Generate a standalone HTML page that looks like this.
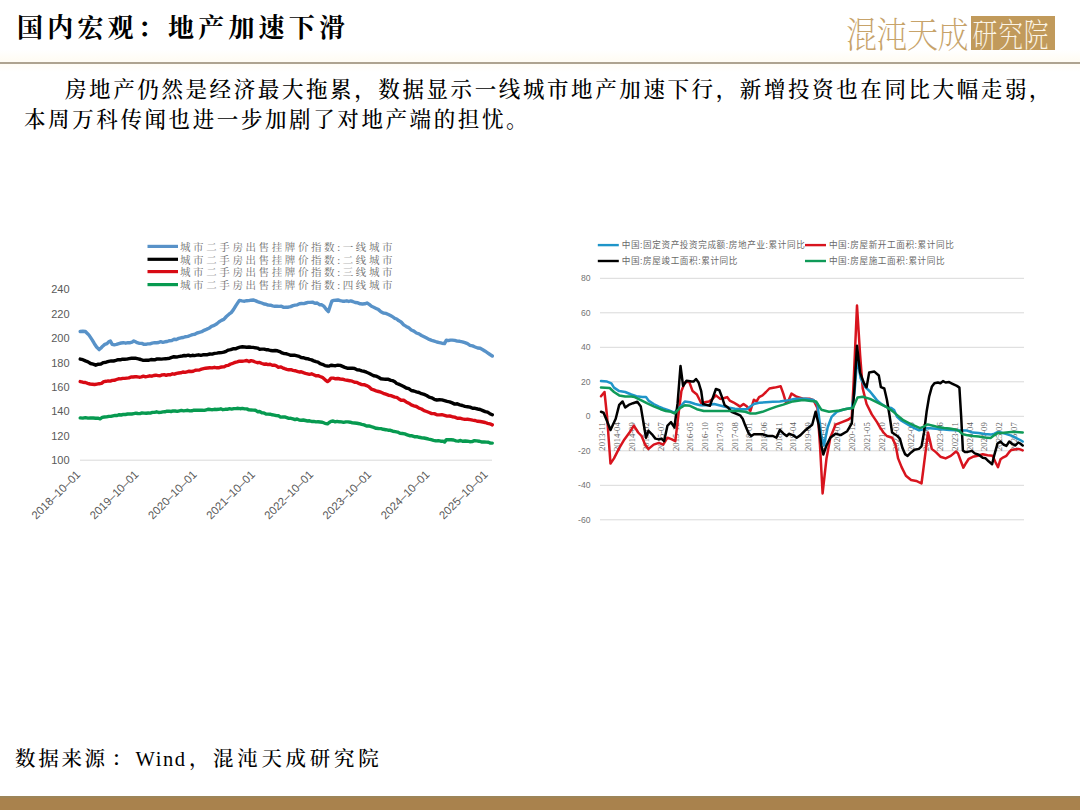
<!DOCTYPE html>
<html lang="zh-CN"><head><meta charset="utf-8"><title>国内宏观：地产加速下滑</title>
<style>
html,body{margin:0;padding:0;background:#fff;}
body{width:1080px;height:810px;position:relative;overflow:hidden;font-family:"Liberation Serif","Noto Serif CJK SC",serif;color:#000;}
.title{position:absolute;left:17px;top:7px;font-size:26px;font-weight:700;letter-spacing:4.2px;white-space:nowrap;font-family:"Liberation Serif","Noto Serif CJK SC",serif;}
.band{position:absolute;left:0;top:50px;width:1080px;height:22px;background:linear-gradient(#fff 0,#fffcf4 45%,#fffcf4 60%,#fff 100%);}
.hline{position:absolute;left:0;top:62px;width:1080px;height:2px;background:#aea390;}
.para{position:absolute;left:24px;top:75px;width:1050px;font-size:21.5px;line-height:30px;letter-spacing:2.6px;font-weight:500;}
.para p{margin:0;white-space:nowrap;}
.src{position:absolute;left:15px;top:744px;font-size:20.5px;font-weight:500;white-space:nowrap;letter-spacing:2.7px;}
.src span{position:absolute;top:0;line-height:30px;}
.bar{position:absolute;left:0;top:796px;width:1080px;height:12px;background:#a9824d;border-top:2px solid #9d8558;}
.logo{position:absolute;left:846px;top:12px;height:42px;white-space:nowrap;}
.logo .a{position:absolute;left:0;top:0;font-size:30px;font-weight:200;color:#c7a36a;letter-spacing:-0.5px;font-family:"Noto Serif CJK SC",serif;line-height:42px;transform:scale(1.035,1.2);transform-origin:1px 22.5px;}
.logo .b{position:absolute;left:125px;top:4px;width:84px;height:34px;background:#c19a5b;color:#fbf4e6;font-size:25px;font-weight:200;line-height:34px;text-align:center;letter-spacing:1px;font-family:"Noto Serif CJK SC",serif;}
.logo .c{display:inline-block;position:relative;top:-1.5px;left:-2px;transform:scale(0.99,1.33);transform-origin:50% 50%;}
svg{position:absolute;left:0;top:0;}
.ly{font-family:"Liberation Sans",sans-serif;font-size:11px;fill:#595959;text-anchor:end;}
.lx{font-family:"Liberation Sans",sans-serif;font-size:11.4px;fill:#595959;text-anchor:end;}
.lleg{font-family:"Liberation Serif","Noto Serif CJK SC",serif;font-size:10.5px;fill:#6b6b6b;letter-spacing:2.6px;}
.ry{font-family:"Liberation Sans",sans-serif;font-size:8.6px;fill:#737373;text-anchor:end;}
.rx{font-family:"Liberation Serif",serif;font-size:8.6px;fill:#606060;text-anchor:end;}
.rleg{font-family:"Liberation Sans","Noto Sans CJK SC",sans-serif;font-size:8.6px;letter-spacing:0.6px;fill:#6a6a6a;}
</style></head>
<body>
<div class="band"></div>
<div class="title">国内宏观：地产加速下滑</div>
<div class="logo"><span class="a">混沌天成</span><span class="b"><span class="c">研究院</span></span></div>
<div class="hline"></div>
<div class="para"><p style="text-indent:41px">房地产仍然是经济最大拖累，数据显示一线城市地产加速下行，新增投资也在同比大幅走弱，</p><p>本周万科传闻也进一步加剧了对地产端的担忧。</p></div>
<svg width="1080" height="810" viewBox="0 0 1080 810">
<g id="left">
<text x="69.5" y="293.3" class="ly">240</text>
<text x="69.5" y="317.7" class="ly">220</text>
<text x="69.5" y="342.1" class="ly">200</text>
<text x="69.5" y="366.6" class="ly">180</text>
<text x="69.5" y="391.0" class="ly">160</text>
<text x="69.5" y="415.4" class="ly">140</text>
<text x="69.5" y="439.8" class="ly">120</text>
<text x="69.5" y="464.2" class="ly">100</text>
<line x1="80" y1="460.2" x2="492" y2="460.2" stroke="#d9d9d9" stroke-width="1"/>
<text transform="translate(81.1,475.2) rotate(-45)" class="lx">2018–10–01</text>
<text transform="translate(139.3,475.2) rotate(-45)" class="lx">2019–10–01</text>
<text transform="translate(197.5,475.2) rotate(-45)" class="lx">2020–10–01</text>
<text transform="translate(255.7,475.2) rotate(-45)" class="lx">2021–10–01</text>
<text transform="translate(313.9,475.2) rotate(-45)" class="lx">2022–10–01</text>
<text transform="translate(372.1,475.2) rotate(-45)" class="lx">2023–10–01</text>
<text transform="translate(430.3,475.2) rotate(-45)" class="lx">2024–10–01</text>
<text transform="translate(488.5,475.2) rotate(-45)" class="lx">2025–10–01</text>
<polyline points="80.2,331.5 82.8,331.2 85.4,331.5 87.1,333.2 88.8,334.9 90.5,337.4 92.3,340.1 94.4,343.7 96.6,347.0 99.2,349.6 101.0,348.0 102.7,346.2 104.8,344.4 107.0,343.6 108.7,341.8 110.4,341.0 112.2,344.4 114.3,344.8 116.5,344.4 118.8,343.6 121.1,343.0 123.4,342.7 125.7,343.2 128.0,342.7 130.3,342.7 132.1,342.2 133.8,341.0 135.5,341.8 137.2,342.7 139.5,343.4 141.8,343.4 144.1,344.4 145.8,344.3 147.6,343.9 149.9,343.9 152.2,343.1 154.5,342.7 156.6,342.8 158.7,342.5 160.7,341.7 162.8,342.3 164.9,341.8 167.2,341.5 169.5,340.7 171.8,340.5 174.1,339.3 176.4,339.5 178.7,338.4 181.0,337.8 183.3,337.5 185.6,336.7 187.9,336.4 190.2,335.5 192.5,334.6 194.8,334.3 197.1,333.0 199.4,332.3 201.7,331.7 204.1,330.3 206.4,329.4 208.9,328.3 211.5,326.3 214.2,325.4 216.9,323.7 219.2,321.8 221.5,320.4 223.8,319.4 226.4,316.5 229.0,314.2 231.2,312.6 233.3,309.9 235.9,305.6 237.7,302.9 239.4,300.4 242.0,300.9 244.6,301.2 246.8,300.7 248.9,300.6 251.0,300.2 253.2,300.0 255.3,300.6 257.5,301.6 259.6,302.3 261.8,303.0 264.0,304.0 266.1,304.3 268.3,305.1 270.5,305.2 272.6,305.9 274.8,306.3 277.0,306.3 279.1,306.4 281.4,306.3 283.7,307.4 286.0,307.3 288.3,307.2 290.7,306.6 293.0,305.6 295.1,305.2 297.3,304.8 299.5,303.7 301.6,303.5 303.8,303.6 305.9,303.0 308.1,302.4 310.2,302.4 312.5,302.1 314.9,303.2 317.2,303.0 319.5,304.7 321.8,304.8 324.1,306.4 326.2,309.3 328.4,311.6 330.1,306.3 331.8,301.2 333.8,300.4 335.9,300.2 337.9,300.0 340.2,300.7 342.5,301.2 344.8,301.2 346.8,300.8 348.8,301.5 350.7,300.9 352.7,301.5 355.2,302.5 357.8,302.8 360.3,303.8 362.5,304.0 364.8,303.8 367.0,303.0 369.2,304.4 371.5,306.3 373.7,307.2 376.1,308.4 378.5,309.6 380.9,311.7 383.3,313.0 385.8,313.4 388.4,314.5 390.9,315.8 392.8,316.9 394.8,318.3 396.7,319.0 398.6,320.6 401.1,322.0 403.7,324.9 406.2,326.4 408.8,327.8 411.3,330.0 413.9,331.1 416.4,333.0 419.0,333.9 421.5,335.5 424.1,336.8 426.6,338.1 429.2,339.4 431.7,340.4 434.3,341.2 436.8,342.0 439.4,342.6 441.9,343.2 444.5,343.6 446.4,340.1 448.3,340.6 450.3,340.1 452.2,340.1 454.7,340.4 457.3,341.1 459.8,341.3 462.4,341.8 464.9,342.6 467.5,343.6 470.0,345.3 472.6,345.9 475.1,347.0 477.7,348.0 480.2,348.3 482.8,349.7 485.2,351.2 487.6,352.8 490.0,354.5 492.3,356.0" fill="none" stroke="#5892c8" stroke-width="3.4" stroke-linejoin="round" stroke-linecap="round"/>
<polyline points="80.2,359.1 82.8,359.7 85.4,360.9 88.0,361.8 90.6,363.5 93.2,364.2 95.7,365.2 98.3,364.2 100.9,364.0 103.5,362.6 106.1,362.2 108.7,361.4 111.3,360.9 113.6,361.0 115.9,360.4 118.2,359.7 120.3,359.8 122.5,359.1 124.7,359.3 126.8,359.1 129.1,358.6 131.5,358.2 133.8,358.3 136.1,358.3 138.4,358.8 140.7,359.5 143.3,360.4 145.9,360.3 148.4,360.3 151.0,359.5 153.1,359.8 155.2,359.7 157.2,358.9 159.3,359.0 161.4,359.1 163.5,358.9 165.6,358.7 167.6,358.5 169.7,358.2 171.8,357.4 173.9,356.7 176.0,357.0 178.0,356.7 180.1,356.3 182.2,356.0 184.3,355.5 186.3,355.7 188.4,355.1 190.4,355.9 192.5,355.3 194.6,355.6 196.7,355.2 198.7,354.8 200.8,355.3 202.9,354.8 205.2,354.6 207.5,354.7 209.8,354.0 212.2,354.1 214.5,353.4 216.9,353.1 219.2,352.7 221.5,352.6 223.8,352.2 226.1,351.3 228.4,350.1 230.7,349.6 233.0,348.8 235.4,348.8 237.7,347.9 240.0,347.1 242.3,346.8 244.6,347.0 246.8,347.2 248.9,347.0 251.0,347.3 253.2,347.4 255.3,347.8 257.5,348.1 259.6,349.2 261.8,349.1 264.0,349.1 266.1,349.7 268.3,349.8 270.5,350.5 272.8,350.7 275.1,350.5 277.4,350.8 279.7,351.6 282.0,352.9 284.3,353.6 286.5,353.8 288.6,354.5 290.8,355.3 293.0,355.3 295.1,355.3 297.1,355.8 299.2,356.4 301.2,357.5 303.3,357.7 305.4,358.5 307.5,358.7 309.5,359.4 311.6,359.9 313.7,360.9 315.9,361.7 318.0,362.1 320.1,363.7 322.3,364.3 324.9,365.6 327.5,366.0 329.2,366.1 331.0,365.2 333.3,365.5 335.6,365.7 337.9,365.2 340.2,365.4 342.5,366.4 344.8,367.4 347.2,368.2 349.7,368.3 352.2,368.1 354.6,368.5 357.0,369.7 359.4,370.0 361.7,370.9 364.1,371.3 366.5,372.2 368.9,373.2 371.3,374.5 373.7,375.7 376.1,376.1 378.5,377.2 380.9,378.7 383.3,379.0 385.8,379.2 388.4,379.3 390.9,380.3 392.8,380.7 394.8,381.8 396.7,383.5 398.6,384.1 401.1,385.2 403.7,386.5 406.2,388.0 408.8,388.6 411.3,390.5 413.9,391.0 416.4,391.8 419.0,392.5 421.5,393.7 424.1,394.4 426.6,395.5 429.2,397.2 431.7,397.8 434.3,399.3 436.8,400.0 439.4,399.8 441.9,399.9 444.5,400.6 447.1,401.4 449.6,401.9 452.2,402.9 454.7,404.1 457.3,403.8 459.8,404.8 462.4,405.5 464.9,406.4 467.5,406.7 470.0,407.1 472.6,408.3 475.1,408.3 477.7,409.0 480.2,409.5 482.8,410.6 485.2,411.6 487.6,412.2 489.9,413.7 492.3,414.8" fill="none" stroke="#000000" stroke-width="3.4" stroke-linejoin="round" stroke-linecap="round"/>
<polyline points="80.2,381.6 82.8,382.2 85.4,382.5 87.7,383.3 90.0,384.0 92.3,384.2 94.6,384.5 96.9,384.1 99.2,383.7 101.5,383.4 103.8,381.6 106.1,381.3 108.2,380.9 110.3,381.1 112.3,380.4 114.4,380.3 116.5,379.5 118.6,378.8 120.6,378.9 122.7,378.4 124.7,378.4 126.8,378.1 128.9,377.9 131.0,377.0 133.0,377.0 135.1,376.8 137.2,376.8 139.3,377.2 141.4,376.9 143.4,376.2 145.5,376.8 147.6,376.4 149.7,375.8 151.8,376.2 153.8,375.5 155.9,375.2 158.0,375.6 160.1,375.8 162.1,374.9 164.2,374.7 166.2,375.4 168.3,374.7 170.4,374.8 172.5,373.8 174.5,374.2 176.6,373.4 178.7,373.0 180.8,372.8 182.9,372.0 184.9,372.4 187.0,371.8 189.1,371.2 191.2,371.5 193.2,371.2 195.3,370.3 197.3,370.1 199.4,370.0 201.5,369.2 203.6,368.7 205.6,368.2 207.7,368.0 209.8,367.8 212.2,367.9 214.5,367.3 216.9,367.8 219.2,367.7 221.5,367.0 223.8,366.9 226.1,365.7 228.4,365.3 230.7,364.0 232.9,363.3 235.1,362.4 237.2,361.9 239.4,361.2 242.0,361.3 244.6,360.9 246.8,360.5 248.9,361.6 251.0,360.6 253.2,361.2 255.3,362.0 257.5,362.7 259.6,362.4 261.8,363.5 263.9,364.2 266.0,364.0 268.0,364.6 270.1,364.3 272.2,365.2 274.3,365.2 276.4,365.9 278.4,367.3 280.5,366.9 282.6,367.8 284.7,368.6 286.8,369.3 288.8,369.8 290.9,369.7 293.0,370.4 295.1,370.7 297.1,371.3 299.2,372.0 301.2,371.7 303.3,372.6 305.4,373.3 307.5,373.8 309.5,374.3 311.6,373.8 313.7,374.7 315.9,375.8 318.0,375.6 320.1,376.5 322.3,377.3 324.9,379.6 327.5,381.6 329.2,380.3 331.0,378.1 333.3,378.1 335.6,378.8 337.9,378.5 340.2,379.0 342.5,379.2 344.8,379.9 347.2,380.3 349.7,380.7 352.2,381.2 354.6,382.2 357.0,382.4 359.4,383.7 361.7,384.6 364.1,384.7 366.5,385.6 368.9,386.8 371.3,389.1 373.7,389.9 376.1,390.8 378.5,391.5 380.9,392.2 383.3,393.3 385.8,394.2 388.4,395.2 390.9,395.6 392.8,396.3 394.8,397.1 396.7,397.4 398.6,398.7 401.1,400.2 403.7,400.3 406.2,401.9 408.8,403.2 411.3,404.9 413.9,405.8 416.4,406.5 419.0,408.2 421.5,409.0 424.1,410.7 426.6,411.5 429.2,412.5 431.7,413.6 434.3,413.6 436.8,414.8 439.4,414.9 441.9,414.7 444.5,415.3 447.1,416.1 449.6,416.0 452.2,416.7 454.7,417.1 457.3,418.2 459.8,418.2 462.4,418.9 464.9,419.4 467.5,419.2 470.0,419.6 472.6,420.1 475.1,420.5 477.7,421.3 480.2,421.5 482.8,422.0 485.2,422.5 487.6,423.3 489.9,423.8 492.3,424.9" fill="none" stroke="#d80a14" stroke-width="3.4" stroke-linejoin="round" stroke-linecap="round"/>
<polyline points="80.2,417.9 82.8,418.1 85.4,417.6 88.0,418.1 90.6,417.9 93.2,418.0 95.7,418.2 97.9,418.2 100.1,418.8 102.2,417.4 104.4,417.0 106.6,416.9 108.7,416.4 110.8,416.4 113.0,415.8 115.1,415.4 117.2,415.5 119.2,414.7 121.3,415.0 123.4,414.4 125.5,414.5 127.6,414.0 129.6,414.0 131.7,414.0 133.8,413.6 135.9,413.2 137.9,413.5 140.0,413.6 142.0,412.9 144.1,413.1 146.2,413.3 148.3,413.0 150.3,413.1 152.4,412.4 154.5,412.4 156.6,411.8 158.7,412.5 160.7,412.4 162.8,411.9 164.9,411.8 167.0,411.2 169.0,411.1 171.1,411.5 173.1,410.9 175.2,411.0 177.3,411.4 179.4,410.9 181.4,410.4 183.5,410.9 185.6,410.6 187.7,410.3 189.8,410.9 191.8,410.8 193.9,410.2 196.0,410.1 198.1,410.2 200.2,410.2 202.2,410.3 204.3,410.4 206.4,409.8 208.4,409.2 210.5,409.5 212.5,409.7 214.5,409.3 216.6,409.5 218.6,409.3 220.8,408.8 222.9,409.7 225.1,409.3 227.3,409.3 229.5,408.7 231.6,409.1 233.8,408.6 235.9,408.6 238.1,408.3 240.2,408.7 242.4,408.4 244.6,408.9 246.8,408.9 248.9,409.9 251.0,410.0 253.2,410.1 255.3,410.2 257.5,411.7 259.6,411.5 261.8,412.7 263.9,412.9 266.0,414.0 268.0,414.1 270.1,414.2 272.2,414.8 274.3,415.1 276.4,415.6 278.4,415.7 280.5,417.1 282.6,417.0 284.7,416.9 286.8,417.6 288.8,418.4 290.9,418.3 293.0,418.8 295.1,419.6 297.1,419.0 299.2,420.0 301.2,420.2 303.3,420.0 305.4,420.5 307.5,421.0 309.5,420.8 311.6,421.5 313.7,421.4 315.9,421.9 318.0,421.8 320.1,422.0 322.3,422.2 324.9,423.3 327.5,423.9 329.2,422.5 331.0,421.4 333.1,421.0 335.2,421.9 337.2,421.4 339.3,421.8 341.4,421.9 343.6,422.4 345.8,421.9 348.0,421.9 350.2,422.2 352.4,422.9 354.6,423.0 357.0,423.3 359.4,423.7 361.7,424.4 364.1,424.9 366.5,426.0 368.9,425.9 371.3,426.7 373.7,427.4 376.1,428.3 378.5,428.5 380.9,428.6 383.3,429.3 385.7,429.7 388.1,430.2 390.4,430.3 392.8,431.2 395.2,431.6 397.6,432.1 400.0,433.3 402.4,433.5 404.8,433.9 407.2,434.8 409.6,435.7 412.0,435.8 414.4,436.7 416.8,436.6 419.1,437.3 421.5,437.7 423.9,438.0 426.3,438.5 428.7,439.1 431.1,439.6 433.5,440.3 435.9,440.9 438.3,440.6 440.7,441.2 442.6,441.1 444.5,442.1 446.4,439.6 448.8,439.8 451.2,439.7 453.6,440.0 456.0,440.8 458.3,441.2 460.6,440.5 462.9,441.3 465.2,441.0 467.5,441.2 469.8,441.7 472.1,441.6 474.4,440.7 476.7,440.9 479.0,441.2 481.5,442.0 484.1,441.9 486.6,442.1 488.5,442.3 490.4,443.1 492.3,443.1" fill="none" stroke="#079a50" stroke-width="3.4" stroke-linejoin="round" stroke-linecap="round"/>
<line x1="147.5" y1="246.4" x2="178" y2="246.4" stroke="#5892c8" stroke-width="3.2"/>
<text x="180" y="250.6" class="lleg">城市二手房出售挂牌价指数:一线城市</text>
<line x1="147.5" y1="259.3" x2="178" y2="259.3" stroke="#000000" stroke-width="3.2"/>
<text x="180" y="263.5" class="lleg">城市二手房出售挂牌价指数:二线城市</text>
<line x1="147.5" y1="271.6" x2="178" y2="271.6" stroke="#d80a14" stroke-width="3.2"/>
<text x="180" y="275.8" class="lleg">城市二手房出售挂牌价指数:三线城市</text>
<line x1="147.5" y1="284.6" x2="178" y2="284.6" stroke="#079a50" stroke-width="3.2"/>
<text x="180" y="288.8" class="lleg">城市二手房出售挂牌价指数:四线城市</text>
</g>
<g id="right">
<line x1="600" y1="278.3" x2="1024" y2="278.3" stroke="#d9d9d9" stroke-width="1"/>
<text x="590.5" y="281.3" class="ry">80</text>
<line x1="600" y1="312.8" x2="1024" y2="312.8" stroke="#d9d9d9" stroke-width="1"/>
<text x="590.5" y="315.8" class="ry">60</text>
<line x1="600" y1="347.3" x2="1024" y2="347.3" stroke="#d9d9d9" stroke-width="1"/>
<text x="590.5" y="350.3" class="ry">40</text>
<line x1="600" y1="381.8" x2="1024" y2="381.8" stroke="#d9d9d9" stroke-width="1"/>
<text x="590.5" y="384.8" class="ry">20</text>
<line x1="600" y1="416.3" x2="1024" y2="416.3" stroke="#d9d9d9" stroke-width="1"/>
<text x="590.5" y="419.3" class="ry">0</text>
<line x1="600" y1="450.8" x2="1024" y2="450.8" stroke="#d9d9d9" stroke-width="1"/>
<text x="590.5" y="453.8" class="ry">-20</text>
<line x1="600" y1="485.3" x2="1024" y2="485.3" stroke="#d9d9d9" stroke-width="1"/>
<text x="590.5" y="488.3" class="ry">-40</text>
<line x1="600" y1="519.8" x2="1024" y2="519.8" stroke="#d9d9d9" stroke-width="1"/>
<text x="590.5" y="522.8" class="ry">-60</text>
<text transform="translate(605.2,422.3) rotate(-90)" class="rx">2013-11</text>
<text transform="translate(619.9,422.3) rotate(-90)" class="rx">2014-04</text>
<text transform="translate(634.6,422.3) rotate(-90)" class="rx">2014-09</text>
<text transform="translate(649.3,422.3) rotate(-90)" class="rx">2015-02</text>
<text transform="translate(664.0,422.3) rotate(-90)" class="rx">2015-07</text>
<text transform="translate(678.7,422.3) rotate(-90)" class="rx">2015-12</text>
<text transform="translate(693.4,422.3) rotate(-90)" class="rx">2016-05</text>
<text transform="translate(708.1,422.3) rotate(-90)" class="rx">2016-10</text>
<text transform="translate(722.8,422.3) rotate(-90)" class="rx">2017-03</text>
<text transform="translate(737.5,422.3) rotate(-90)" class="rx">2017-08</text>
<text transform="translate(752.2,422.3) rotate(-90)" class="rx">2018-01</text>
<text transform="translate(766.9,422.3) rotate(-90)" class="rx">2018-06</text>
<text transform="translate(781.6,422.3) rotate(-90)" class="rx">2018-11</text>
<text transform="translate(796.3,422.3) rotate(-90)" class="rx">2019-04</text>
<text transform="translate(811.0,422.3) rotate(-90)" class="rx">2019-09</text>
<text transform="translate(825.7,422.3) rotate(-90)" class="rx">2020-02</text>
<text transform="translate(840.4,422.3) rotate(-90)" class="rx">2020-07</text>
<text transform="translate(855.1,422.3) rotate(-90)" class="rx">2020-12</text>
<text transform="translate(869.8,422.3) rotate(-90)" class="rx">2021-05</text>
<text transform="translate(884.5,422.3) rotate(-90)" class="rx">2021-10</text>
<text transform="translate(899.2,422.3) rotate(-90)" class="rx">2022-03</text>
<text transform="translate(913.9,422.3) rotate(-90)" class="rx">2022-08</text>
<text transform="translate(928.6,422.3) rotate(-90)" class="rx">2023-01</text>
<text transform="translate(943.3,422.3) rotate(-90)" class="rx">2023-06</text>
<text transform="translate(958.0,422.3) rotate(-90)" class="rx">2023-11</text>
<text transform="translate(972.7,422.3) rotate(-90)" class="rx">2024-04</text>
<text transform="translate(987.4,422.3) rotate(-90)" class="rx">2024-09</text>
<text transform="translate(1002.1,422.3) rotate(-90)" class="rx">2025-02</text>
<text transform="translate(1016.8,422.3) rotate(-90)" class="rx">2025-07</text>
<polyline points="601.0,396.3 604.5,392.0 607.1,417.0 610.5,463.6 614.0,458.4 619.2,448.1 624.4,439.4 629.5,432.5 633.9,425.6 638.2,432.5 641.6,436.0 645.1,444.6 648.5,448.9 653.7,444.6 658.9,442.9 663.2,444.6 667.5,437.7 671.9,439.4 675.3,441.2 678.8,411.8 681.4,391.1 684.8,382.5 689.1,381.6 692.6,391.1 696.9,394.5 700.4,401.5 702.1,404.9 704.7,402.3 709.0,401.5 712.5,398.9 715.9,395.4 720.2,398.9 724.5,398.0 727.1,397.1 729.7,400.6 733.2,402.3 737.5,404.9 740.1,406.6 743.5,404.0 747.0,406.6 750.4,410.9 753.9,399.7 756.5,401.5 759.1,397.1 762.5,395.4 766.0,392.0 769.4,388.5 774.6,387.6 780.7,386.3 783.3,393.7 785.9,402.3 787.6,402.7 791.5,393.6 796.7,396.7 803.1,398.8 809.6,398.8 813.5,400.1 817.4,407.9 820.0,445.4 822.6,493.4 826.5,458.4 830.3,437.7 835.5,424.7 842.0,422.1 848.5,419.5 851.8,416.9 853.7,380.7 857.0,305.5 860.1,354.8 862.7,388.4 866.6,404.0 871.8,414.4 877.0,422.1 880.0,427.4 883.5,432.5 886.9,436.0 892.1,437.7 895.5,444.6 898.1,458.4 901.6,467.1 905.9,475.7 911.1,480.0 916.3,480.9 921.5,483.5 923.2,470.5 925.8,449.8 928.0,432.5 930.1,441.2 931.8,448.9 936.1,452.4 940.4,456.7 945.6,458.4 950.8,455.9 956.0,451.5 958.0,453.4 960.9,461.3 963.4,467.7 965.9,463.2 968.8,458.8 972.8,456.8 977.7,455.8 982.7,454.3 987.6,455.3 992.5,455.8 995.5,462.3 998.0,467.2 1000.5,459.3 1003.4,457.3 1006.4,455.8 1008.9,452.4 1011.3,449.9 1014.3,449.4 1018.2,448.9 1020.2,449.4 1022.7,450.4" fill="none" stroke="#d8141e" stroke-width="2.5" stroke-linejoin="round" stroke-linecap="round"/>
<polyline points="601.0,381.1 607.1,381.6 611.4,383.3 614.0,387.6 619.2,391.1 625.2,392.0 631.3,394.5 636.4,396.3 642.5,397.1 646.0,397.1 648.5,400.6 653.7,404.0 658.9,406.6 663.2,408.4 668.4,410.1 674.4,412.7 679.6,407.5 684.8,401.5 690.0,402.3 695.2,404.0 700.4,405.3 707.3,405.3 714.2,404.0 721.1,405.8 728.0,407.5 734.9,408.7 741.8,409.2 747.0,409.2 750.4,406.6 753.9,404.0 759.1,402.8 766.0,402.3 772.9,401.8 779.8,401.5 786.7,400.6 795.4,398.8 805.7,398.8 813.5,400.1 817.4,404.0 821.3,435.1 823.9,445.4 827.7,427.3 831.6,416.9 836.8,411.8 844.6,409.2 851.8,407.9 854.4,393.6 857.3,358.0 860.6,378.1 865.3,387.2 870.0,391.5 873.7,396.1 877.4,400.7 882.0,404.4 886.7,407.2 891.3,408.1 894.1,410.0 896.9,416.5 900.6,420.2 905.2,423.0 909.8,425.7 914.4,428.1 919.1,430.4 923.7,429.4 927.4,428.1 933.0,428.4 938.5,429.0 944.1,429.5 949.6,429.9 955.2,430.3 960.7,430.4 966.9,430.6 972.8,432.6 978.7,433.1 984.6,434.1 990.6,434.6 994.5,433.6 997.5,432.1 1001.4,432.6 1006.4,434.1 1011.3,435.6 1016.3,438.0 1020.2,440.0 1022.7,441.5" fill="none" stroke="#1f95c9" stroke-width="2.5" stroke-linejoin="round" stroke-linecap="round"/>
<polyline points="601.0,411.8 603.6,412.7 607.1,421.3 610.5,430.0 615.7,418.7 619.2,404.9 622.6,401.5 625.2,407.5 628.7,404.9 633.0,403.2 637.3,401.8 640.8,406.6 643.4,422.2 646.0,437.7 648.5,430.8 652.0,434.3 655.4,438.6 658.9,439.4 661.5,438.6 664.1,441.2 667.5,425.6 671.0,422.2 674.4,427.4 677.6,403.2 680.5,366.0 683.1,385.9 686.5,380.7 691.7,381.6 693.5,381.6 696.0,379.0 698.6,382.5 701.2,391.1 703.0,404.0 706.4,404.9 709.9,405.8 713.3,396.3 715.9,389.0 719.4,390.2 722.0,397.1 724.5,404.9 728.0,407.5 731.5,411.8 735.8,413.5 740.1,415.3 742.7,418.7 745.3,425.6 748.7,433.4 751.3,436.0 753.9,434.3 757.4,434.3 762.5,434.3 767.7,436.0 772.9,436.0 776.4,437.7 779.8,430.0 783.3,433.4 786.7,436.0 788.9,433.8 792.8,435.1 796.7,437.7 800.5,435.1 805.7,429.9 812.2,424.7 815.6,411.8 818.7,424.7 821.3,445.4 823.3,454.5 826.5,445.4 830.3,437.7 835.5,433.8 840.7,435.1 847.2,431.2 851.8,423.4 854.4,388.4 857.0,345.7 860.1,372.9 864.0,383.3 866.6,387.2 869.2,372.4 874.4,371.6 878.8,375.5 880.9,387.2 884.3,388.5 886.9,399.7 889.5,415.3 892.1,432.5 894.7,434.3 897.3,436.0 899.9,438.6 902.5,448.1 905.0,454.1 907.6,455.9 911.1,452.4 914.5,449.8 918.9,448.9 921.5,446.4 924.0,432.5 926.6,411.8 929.2,396.3 931.8,386.8 934.4,383.3 937.9,382.5 940.4,383.3 943.0,381.1 945.6,382.5 949.1,382.1 952.5,383.8 956.9,385.9 959.4,387.6 961.2,417.0 962.9,450.4 964.9,451.9 967.8,451.9 971.8,450.9 974.8,453.4 978.7,454.8 982.7,457.8 985.6,458.3 988.6,461.3 992.1,464.2 994.5,454.3 997.5,443.5 1000.5,441.5 1003.4,444.5 1006.4,445.9 1009.3,441.5 1012.3,444.0 1015.3,445.5 1018.2,442.5 1020.2,443.5 1022.7,445.5" fill="none" stroke="#000000" stroke-width="2.5" stroke-linejoin="round" stroke-linecap="round"/>
<polyline points="601.0,387.6 609.7,388.0 614.0,392.0 619.2,395.4 625.2,396.6 631.3,396.6 634.7,397.1 639.9,399.7 646.8,403.2 653.7,406.3 660.6,409.2 665.8,411.0 671.0,411.8 674.4,413.5 679.6,408.4 684.8,405.3 690.0,405.8 696.9,409.2 703.8,411.0 710.7,411.0 717.6,411.0 724.5,411.0 731.5,411.0 738.4,411.0 745.3,411.8 750.4,413.5 755.6,413.5 762.5,411.8 769.4,409.2 776.4,406.6 783.3,404.6 792.8,401.4 803.1,400.1 810.9,400.9 816.1,401.4 821.3,409.7 829.0,411.8 839.4,410.5 847.2,408.7 852.9,407.9 857.5,397.5 862.7,396.7 870.0,398.9 875.6,401.7 881.1,404.4 886.7,407.2 892.2,410.9 897.8,415.6 903.3,420.2 908.9,423.0 914.4,425.7 920.0,428.1 923.7,426.7 927.4,424.4 933.0,425.7 938.5,427.1 944.1,428.1 949.6,428.5 955.2,429.4 958.9,430.8 962.6,434.1 966.3,435.0 972.8,436.1 978.7,436.6 984.6,437.5 990.6,438.0 994.5,435.1 997.5,433.1 1001.4,433.1 1006.4,432.6 1011.3,432.1 1016.3,432.1 1022.7,432.4" fill="none" stroke="#0f9a58" stroke-width="2.5" stroke-linejoin="round" stroke-linecap="round"/>
<line x1="597.8" y1="245.1" x2="618.8" y2="245.1" stroke="#1f95c9" stroke-width="2.4"/>
<text x="621.7" y="247.7" class="rleg">中国:固定资产投资完成额:房地产业:累计同比</text>
<line x1="805" y1="245.1" x2="826" y2="245.1" stroke="#d8141e" stroke-width="2.4"/>
<text x="828.9" y="247.7" class="rleg">中国:房屋新开工面积:累计同比</text>
<line x1="597.8" y1="261" x2="618.8" y2="261" stroke="#000000" stroke-width="2.4"/>
<text x="621.7" y="263.6" class="rleg">中国:房屋竣工面积:累计同比</text>
<line x1="805" y1="261" x2="826" y2="261" stroke="#0f9a58" stroke-width="2.4"/>
<text x="828.9" y="263.6" class="rleg">中国:房屋施工面积:累计同比</text>
</g>
</svg>
<div class="src"><span style="left:0">数据来源</span><span style="left:96.4px">：</span><span style="left:120.5px;letter-spacing:1.6px">Wind</span><span style="left:174px">，</span><span style="left:198px;letter-spacing:3.7px">混沌天成研究院</span></div>
<div class="bar"></div>
</body></html>
